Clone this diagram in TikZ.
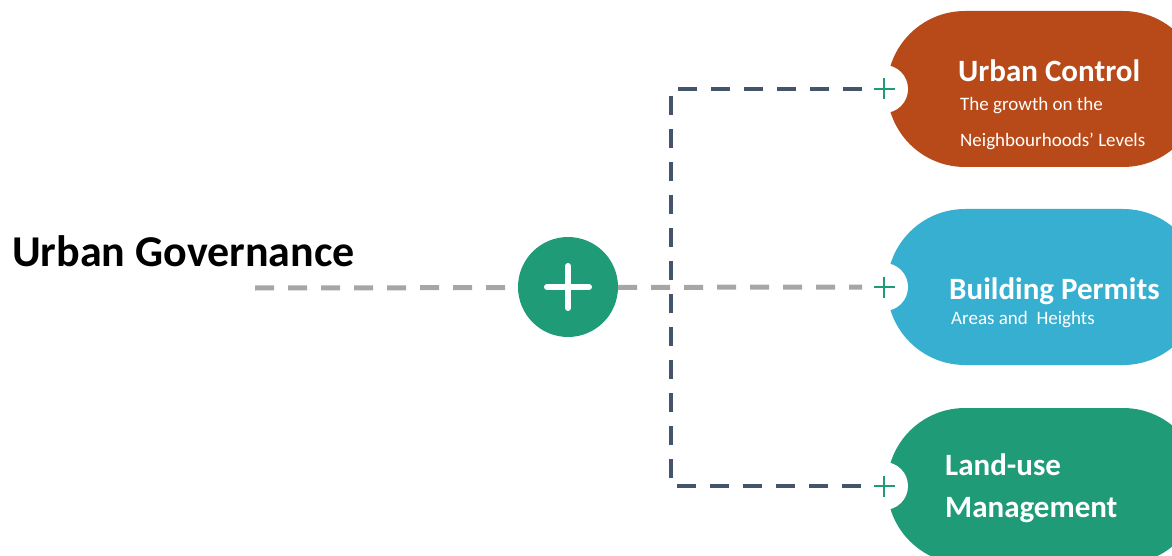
\documentclass[tikz,border=0pt]{standalone}
\usepackage{fontspec}
\setmainfont{Carlito}
\usepackage{xcolor}
\usetikzlibrary{positioning,calc}

\definecolor{ctrlbrown}{HTML}{B84A1A}
\definecolor{permblue}{HTML}{37AFD0}
\definecolor{landgreen}{HTML}{1F9B78}
\definecolor{slate}{HTML}{44546A}
\definecolor{lightgray}{HTML}{A6A6A6}

\tikzset{
  title/.style={inner sep=0pt, anchor=base west, font=\bfseries\fontsize{44}{52}\selectfont},
  head/.style={inner sep=0pt, anchor=base west, text=white, font=\bfseries\fontsize{31}{37}\selectfont},
  sub/.style={inner sep=0pt, anchor=base west, text=white, font=\fontsize{19}{23}\selectfont},
  hub/.style={circle, fill=landgreen, minimum size=100pt, inner sep=0pt},
  graydash/.style={lightgray, line width=5pt, dash pattern=on 19pt off 14pt},
  slatedash/.style={slate, line width=4.5pt, dash pattern=on 19pt off 14pt},
  plusmark/.style={landgreen, line width=2.5pt}
}

\begin{document}
\begin{tikzpicture}[x=1pt, y=-1pt, line cap=butt]

% frame
\useasboundingbox (0,0) rectangle (1172,556);
\clip (0,0) rectangle (1172,556);

% parameters
\def\prad{78}
\def\nrad{24}

% anchor points
\coordinate (gstart) at (255,288);
\coordinate (pA) at (884,89);
\coordinate (pB) at (884,287);
\coordinate (pC) at (884,486);
\coordinate (trunkA) at (671,89);
\coordinate (trunkC) at (671,486);

% pills
\fill[ctrlbrown, rounded corners=\prad pt] (887,11) rectangle (1201,167);
\fill[permblue, rounded corners=\prad pt] (887,209) rectangle (1201,365);
\fill[landgreen, rounded corners=\prad pt] (887,408) rectangle (1201,564);

% notches with plus
\foreach \p in {pA,pB,pC} {
  \fill[white] (\p) circle (\nrad pt);
  \draw[plusmark] ($(\p)+(-10.5,0)$) -- ($(\p)+(10.5,0)$);
  \draw[plusmark] ($(\p)+(0,-10.5)$) -- ($(\p)+(0,10.5)$);
}

% connectors
\draw[graydash] (gstart) -- ($(pB)+(-22,0)$);
\draw[slatedash] ($(pA)+(-22,0)$) -- (trunkA) -- (trunkC) -- ($(pC)+(-22,0)$);

% central hub
\node[hub] (hub) at (568,287) {};
\draw[white, line width=6pt, line cap=round] ([xshift=-21pt]hub.center) -- ([xshift=21pt]hub.center);
\draw[white, line width=6pt, line cap=round] ([yshift=-21pt]hub.center) -- ([yshift=21pt]hub.center);

% labels
\node[title] (gov) at (12,266) {Urban Governance};

\node[head] (ctrl) at (958,82) {Urban Control};
\node[sub] (ctrl1) at (960,111) {The growth on the};
\node[sub] (ctrl2) at (960,147) {Neighbourhoods' Levels};

\node[head] (perm) at (949,299) {Building Permits};
\node[sub] (perm1) at (951,324) {Areas and\ \ Heights};

\node[head] (land) at (945,475) {Land-use};
\node[head] (mgmt) at (945,517) {Management};

\end{tikzpicture}
\end{document}
